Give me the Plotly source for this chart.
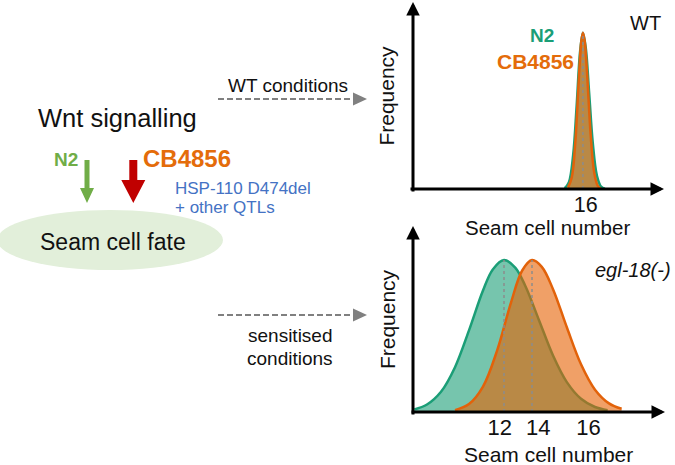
import plotly.graph_objects as go

W, H = 675, 465
FONT = "Liberation Sans, Arial, sans-serif"

# ---------------- data ----------------
# Top panel (WT conditions): schematic frequency curves (peak normalised to 1)
top_n2_x = [14.7, 15.0, 15.3, 15.55, 15.8, 16.0, 16.2, 16.45, 16.7, 17.0, 17.3, 17.57]
top_n2_freq = [0.005, 0.044, 0.216, 0.531, 0.882, 1.0, 0.906, 0.607, 0.298, 0.085, 0.015, 0.002]
top_cb_x = [14.93, 15.2, 15.45, 15.7, 15.88, 16.0, 16.12, 16.3, 16.55, 16.8, 17.05, 17.25]
top_cb_freq = [0.009, 0.073, 0.291, 0.693, 0.943, 1.0, 0.951, 0.733, 0.351, 0.109, 0.022, 0.005]
top_means = [16]
top_mean_peaks = [1.0]
top_tick_pos = [16.2]
top_tick_labels = ["16"]

# Bottom panel (sensitised conditions, egl-18(-))
bot_n2_x = [5.6, 6.5, 7.5, 8.5, 9.5, 10.5, 11.2, 12.0, 12.8, 13.5, 14.5, 15.5, 16.5, 17.5, 18.5, 19.4]
bot_n2_freq = [0.017, 0.049, 0.133, 0.295, 0.537, 0.799, 0.938, 1.0, 0.950, 0.834, 0.604, 0.372, 0.195, 0.087, 0.033, 0.012]
bot_cb_x = [8.5, 9.5, 10.5, 11.5, 12.5, 13.3, 14.0, 14.7, 15.5, 16.5, 17.5, 18.5, 19.5, 20.4]
bot_cb_freq = [0.012, 0.052, 0.167, 0.402, 0.720, 0.931, 1.0, 0.955, 0.808, 0.554, 0.314, 0.147, 0.057, 0.021]
bot_means = [12, 14]
bot_mean_peaks = [1.0, 1.0]
bot_tick_pos = [11.7, 14.45, 18.03]
bot_tick_labels = ["12", "14", "16"]

# ---------------- styles ----------------
N2_LINE = "#1b9e77"
N2_FILL = "rgba(27,158,119,0.6)"
CB_LINE = "#e2620a"
CB_FILL = "rgba(230,97,1,0.6)"
MEAN_LINE = "#8c8c8c"
ORANGE_TXT = "#e46c0a"
TXT = "#111111"


def px(x):
    return x / W


def py(y):
    return 1 - y / H


fig = go.Figure()


def add_curves(xs, ys, xa, ya, line, fill):
    fig.add_trace(go.Scatter(x=xs, y=ys, mode="lines", fill="tozeroy", fillcolor=fill,
                             line=dict(color=line, width=2.5, shape="spline", smoothing=1.0),
                             xaxis=xa, yaxis=ya, hoverinfo="skip"))


add_curves(top_n2_x, top_n2_freq, "x", "y", N2_LINE, N2_FILL)
add_curves(top_cb_x, top_cb_freq, "x", "y", CB_LINE, CB_FILL)
add_curves(bot_n2_x, bot_n2_freq, "x2", "y2", N2_LINE, N2_FILL)
add_curves(bot_cb_x, bot_cb_freq, "x2", "y2", CB_LINE, CB_FILL)

for m, pk in zip(top_means, top_mean_peaks):
    fig.add_trace(go.Scatter(x=[m, m], y=[0, pk], mode="lines",
                             line=dict(color=MEAN_LINE, width=1.5, dash="dot"),
                             xaxis="x", yaxis="y", hoverinfo="skip"))
for m, pk in zip(bot_means, bot_mean_peaks):
    fig.add_trace(go.Scatter(x=[m, m], y=[0, pk], mode="lines",
                             line=dict(color=MEAN_LINE, width=1.5, dash="dot"),
                             xaxis="x2", yaxis="y2", hoverinfo="skip"))

axis_common = dict(showgrid=False, zeroline=False, showline=False, ticks="")

fig.update_layout(
    width=W, height=H,
    margin=dict(l=0, r=0, t=0, b=0),
    paper_bgcolor="white", plot_bgcolor="rgba(0,0,0,0)",
    showlegend=False,
    font=dict(family=FONT, color=TXT),
    xaxis=dict(domain=[px(412), px(663)], range=[3.79, 21.72], anchor="y",
               tickvals=top_tick_pos, ticktext=top_tick_labels,
               tickfont=dict(size=21.5, color=TXT),
               **axis_common),
    yaxis=dict(domain=[py(189), py(3)], range=[0, 1.19], anchor="x",
               showticklabels=False,
               title=dict(text="Frequency", font=dict(size=21, color=TXT), standoff=10),
               **axis_common),
    xaxis2=dict(domain=[px(413), px(665)], range=[5.5, 23.5], anchor="y2",
                tickvals=bot_tick_pos, ticktext=bot_tick_labels,
                tickfont=dict(size=22, color=TXT),
                **axis_common),
    yaxis2=dict(domain=[py(412), py(227)], range=[0, 1.217], anchor="x2",
                showticklabels=False,
                title=dict(text="Frequency", font=dict(size=21, color=TXT), standoff=10),
                **axis_common),
)

annotations = []
shapes = []


def axis_arrow(x0, y0, x1, y1):
    annotations.append(dict(x=px(x1), y=py(y1), xref="paper", yref="paper",
                            ax=x0 - x1, ay=y0 - y1, axref="pixel", ayref="pixel",
                            showarrow=True, arrowhead=2, arrowsize=0.9, arrowwidth=3,
                            arrowcolor="black", text=""))


# axes with arrowheads
axis_arrow(409, 189, 664, 189)
axis_arrow(413, 193, 413, 2)
axis_arrow(410, 412, 665, 412)
axis_arrow(413, 416, 413, 226)


def dashed_arrow(x0, x1, y):
    shapes.append(dict(type="line", xref="paper", yref="paper", x0=px(x0), x1=px(x1 - 12),
                       y0=py(y), y1=py(y), line=dict(color="#808080", width=2, dash="6px,3px")))
    path = f"M {px(x1-14)},{py(y-6.5)} L {px(x1-14)},{py(y+6.5)} L {px(x1)},{py(y)} Z"
    shapes.append(dict(type="path", xref="paper", yref="paper", path=path,
                       fillcolor="#808080", line=dict(width=0)))


dashed_arrow(218, 367, 99)
dashed_arrow(218, 367, 315)


def block_arrow(cx, y_top, y_headbase, y_tip, shaft_w, head_w, color):
    pts = [(cx - shaft_w / 2, y_top), (cx + shaft_w / 2, y_top), (cx + shaft_w / 2, y_headbase),
           (cx + head_w / 2, y_headbase), (cx, y_tip), (cx - head_w / 2, y_headbase),
           (cx - shaft_w / 2, y_headbase)]
    path = "M " + " L ".join(f"{px(a)},{py(b)}" for a, b in pts) + " Z"
    shapes.append(dict(type="path", xref="paper", yref="paper", path=path,
                       fillcolor=color, line=dict(width=0)))


# ellipse "Seam cell fate"
shapes.append(dict(type="circle", xref="paper", yref="paper", x0=px(-3), x1=px(223),
                   y0=py(270), y1=py(210), fillcolor="#e2efda", line=dict(width=0), layer="below"))

block_arrow(87, 160, 188, 203, 5, 14, "#70ad47")
block_arrow(133.3, 160, 180, 203, 8, 24, "#c00000")


def text(x, y, s, size, color=TXT, bold=False, italic=False, xanchor="center"):
    if bold:
        s = f"<b>{s}</b>"
    if italic:
        s = f"<i>{s}</i>"
    annotations.append(dict(x=px(x), y=py(y), xref="paper", yref="paper", text=s,
                            showarrow=False, xanchor=xanchor, yanchor="middle",
                            font=dict(size=size, color=color, family=FONT)))


text(117, 118, "Wnt signalling", 25.5)
text(66, 159, "N2", 19, "#70ad47", bold=True)
text(186.5, 158, "CB4856", 24, ORANGE_TXT, bold=True)
text(173, 188, "HSP-110 D474del", 17, "#4472c4", xanchor="left")
text(173, 208, "+ other QTLs", 17, "#4472c4", xanchor="left")
text(113, 242, "Seam cell fate", 23)
text(288, 85, "WT conditions", 19)
text(290, 335, "sensitised", 19)
text(290, 358, "conditions", 19)
text(645, 23, "WT", 20)
text(542, 35, "N2", 19, N2_LINE, bold=True)
text(535, 62, "CB4856", 21, ORANGE_TXT, bold=True)
text(633, 270, "egl-18(-)", 20, italic=True)
# x-axis titles
text(547, 227, "Seam cell number", 20.5)
text(548, 454, "Seam cell number", 21)

fig.update_layout(annotations=annotations, shapes=shapes)

fig.write_html("out.html", config={"displayModeBar": False},
               post_script="document.body.style.margin='0px';")
